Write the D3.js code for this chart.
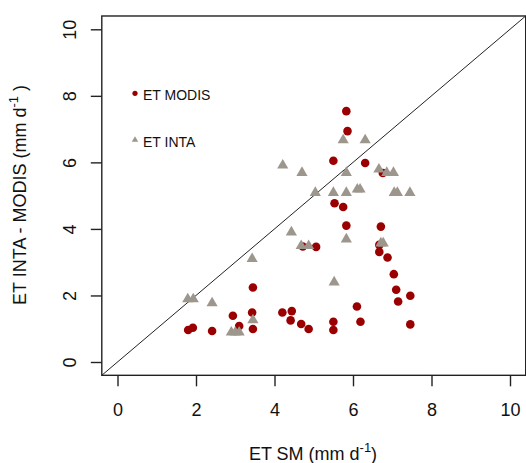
<!DOCTYPE html>
<html><head><meta charset="utf-8">
<script src="https://cdn.jsdelivr.net/npm/d3@7"></script>
<style>body{margin:0;background:#fff;} text{font-family:"Liberation Sans",Arial,sans-serif;fill:#111;}</style>
</head><body>
<script>
const xTicks = [0,2,4,6,8,10];
const yTicks = [0,2,4,6,8,10];
const modisX = [1.80,1.92,2.41,2.94,3.10,3.45,3.43,3.45,4.20,4.44,4.41,4.68,4.87,5.06,4.72,5.50,5.53,5.75,5.83,5.83,5.86,5.50,5.50,6.10,6.19,6.31,6.76,6.71,6.67,6.67,6.88,7.04,7.10,7.15,7.46,7.46];
const modisY = [0.96,1.03,0.93,1.39,1.08,2.24,1.49,0.99,1.49,1.53,1.25,1.14,0.99,3.46,3.47,6.05,4.77,4.66,4.10,7.54,6.94,1.21,0.96,1.67,1.21,5.98,5.68,4.07,3.52,3.31,3.14,2.64,2.17,1.82,1.99,1.13];
const intaX = [1.79,1.93,2.41,2.90,3.00,3.10,3.45,3.43,4.21,4.70,5.04,4.43,4.68,4.87,5.50,5.83,5.83,5.75,6.31,6.11,6.18,6.66,6.86,7.03,7.05,7.13,7.45,5.83,6.71,6.77,5.52];
const intaY = [1.92,1.92,1.80,0.92,0.92,0.92,1.29,3.13,5.94,5.72,5.12,3.93,3.52,3.52,5.12,5.12,5.72,6.70,6.70,5.22,5.22,5.82,5.72,5.72,5.12,5.12,5.12,3.72,3.60,3.60,2.43];
const legendLabels = ["ET MODIS","ET INTA"];
const RED = "#9A0000", GRAY = "#9D968D";

const W = 526, H = 463;
const svg = d3.select("body").append("svg").attr("width", W).attr("height", H);
const x = d3.scaleLinear().domain([0,10]).range([117.5,510]);
const y = d3.scaleLinear().domain([0,10]).range([362,29.3]);
const x0 = x(-0.4), x1 = x(10.4), y0 = y(-0.4), y1 = y(10.4);

// diagonal 1:1 line
svg.append("line").attr("x1", x(-0.4)).attr("y1", y(-0.4)).attr("x2", x(10.4)).attr("y2", y(10.4))
  .attr("stroke", "#222").attr("stroke-width", 1);

// MODIS circles
svg.append("g").selectAll("circle").data(modisX.map((v,i)=>[v,modisY[i]])).join("circle")
  .attr("cx", d=>x(d[0])).attr("cy", d=>y(d[1])).attr("r", 4.3).attr("fill", RED);
// INTA triangles (drawn on top)
const tri = d3.symbol().type(d3.symbolTriangle).size(54);
svg.append("g").selectAll("path").data(intaX.map((v,i)=>[v,intaY[i]])).join("path")
  .attr("d", tri).attr("transform", d=>`translate(${x(d[0])},${y(d[1])+1})`).attr("fill", GRAY);

// box
svg.append("rect").attr("x", x0).attr("y", y1).attr("width", x1-x0).attr("height", y0-y1)
  .attr("fill", "none").attr("stroke", "#222").attr("stroke-width", 1.4);

// x axis
const gx = svg.append("g").attr("transform", `translate(0,${y0})`)
  .call(d3.axisBottom(x).tickValues(xTicks).tickSize(11).tickSizeOuter(0));
gx.select(".domain").remove();
gx.selectAll("line").attr("stroke", "#222").attr("stroke-width", 1.4);
gx.selectAll("text").attr("y", 41).attr("dy", 0).style("font-size", "18px")
  .style("font-family", "'Liberation Sans',Arial,sans-serif").attr("fill", "#111");

// y axis
const gy = svg.append("g").attr("transform", `translate(${x0},0)`)
  .call(d3.axisLeft(y).tickValues(yTicks).tickSize(11).tickSizeOuter(0));
gy.select(".domain").remove();
gy.selectAll("line").attr("stroke", "#222").attr("stroke-width", 1.4);
gy.selectAll("text").attr("transform", "rotate(-90)").attr("x", 0).attr("y", -26).attr("dy", 0)
  .attr("text-anchor", "middle").style("font-size", "18px")
  .style("font-family", "'Liberation Sans',Arial,sans-serif").attr("fill", "#111");

// x title
const xt = svg.append("text").attr("x", 313).attr("y", 460).attr("text-anchor", "middle").style("font-size", "18px");
xt.append("tspan").text("ET SM (mm d");
xt.append("tspan").text("-1").attr("dy", -8).style("font-size", "13px");
xt.append("tspan").text(")").attr("dy", 8);

// y title
const yt = svg.append("text").attr("transform", "translate(26,195) rotate(-90)").attr("text-anchor", "middle").style("font-size", "18px");
yt.append("tspan").text("ET INTA - MODIS (mm d");
yt.append("tspan").text("-1").attr("dy", -8).style("font-size", "13px");
yt.append("tspan").text(" )").attr("dy", 8);

// legend
const lg = svg.append("g");
lg.append("circle").attr("cx", 135).attr("cy", 93.3).attr("r", 2.6).attr("fill", RED);
lg.append("path").attr("d", d3.symbol().type(d3.symbolTriangle).size(18)).attr("transform", "translate(135,140)").attr("fill", GRAY);
lg.selectAll("text").data(legendLabels).join("text").attr("x", 143).attr("y", (d,i)=> i===0 ? 100 : 147)
  .style("font-size", "14px").text(d=>d);
</script>
</body></html>
